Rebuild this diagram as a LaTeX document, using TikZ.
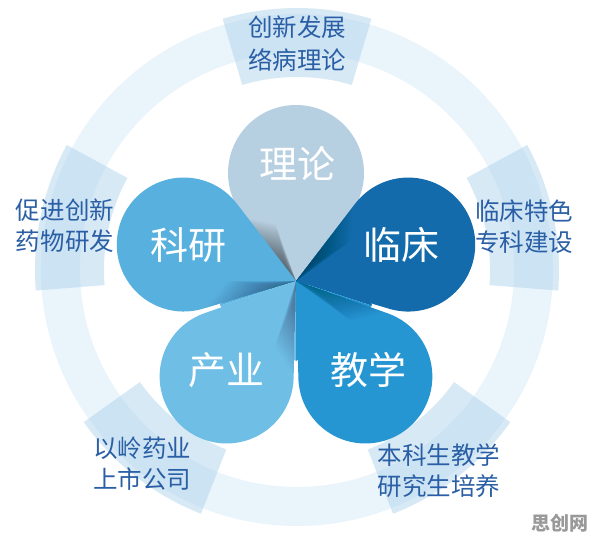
\documentclass[tikz,border=0pt]{standalone}
\usepackage{fontspec}
\newfontfamily\cjk{Noto Sans CJK SC}
\usetikzlibrary{calc}
\definecolor{ringc}{HTML}{EAF4FB}
\definecolor{segc}{HTML}{A9D0EC}
\definecolor{txtc}{HTML}{2A5FA5}
\definecolor{cLilun}{HTML}{B7D0E1}
\definecolor{cLinchuang}{HTML}{136BAB}
\definecolor{cKeyan}{HTML}{58B0DE}
\definecolor{cChanye}{HTML}{6EBEE6}
\definecolor{cJiaoxue}{HTML}{2696D2}
\newcommand{\petalpath}[3]{(O) -- ($(O)+(#1:#2)+(#1-90-\pal:#3)$) arc[start angle=#1-90-\pal, delta angle=180+2*\pal, radius=#3] -- cycle}
% #1 angle, #2 distance, #3 radius, #4 colour, #5 shadow strength per step
\newcommand{\drawpetal}[5]{%
  \pgfmathsetmacro{\pal}{asin(#3/#2)}%
  \pgfmathsetmacro{\ptl}{sqrt(#2*#2-#3*#3)}%
  \fill[#4] \petalpath{#1}{#2}{#3};
  \begin{scope}
    \clip \petalpath{#1}{#2}{#3};
    \foreach \i in {1,...,36}{
      \fill[black, opacity=#5, shift={(O)}, rotate=#1+\pal] (0,0) -- ({\ptl*(0.25+0.02*\i)}, 0) -- ({0.7*\ptl*(0.25+0.02*\i)}, {-0.55*\i}) -- cycle;
    }
  \end{scope}
}
\begin{document}
\begin{tikzpicture}[x=1pt,y=1pt,
  outer/.style={font=\cjk\fontsize{24.5}{31}\selectfont, text=txtc, align=center, inner sep=0pt},
  petaltext/.style={font=\cjk\fontsize{38}{40}\selectfont, text=white, inner sep=0pt}]
\useasboundingbox (0,0) rectangle (596,541);
\fill[white] (0,0) rectangle (596,541);
\coordinate (rc) at (297,271);
\coordinate (O) at (296,260);
% ring
\fill[ringc, even odd rule] (rc) circle[radius=256] (rc) circle[radius=217];
% highlighted segments
\foreach \a in {90,12,168,-52,-128}{
  \fill[segc, opacity=0.45] ($(rc)+(\a-16.5:193)$) arc[start angle=\a-16.5, end angle=\a+16.5, radius=193]
     -- ($(rc)+(\a+16.5:262)$) arc[start angle=\a+16.5, end angle=\a-16.5, radius=262] -- cycle;
}
% underlay wedges to close gaps between petals
\foreach \t/\c in {90/cLilun,18/cLinchuang,162/cKeyan,-126/cChanye,-54/cJiaoxue}{
  \fill[\c] (O) -- ($(O)+(\t-36:80)$) -- ($(O)+(\t+36:80)$) -- cycle;
}
% petals
\drawpetal{90}{108}{68}{cLilun}{0.016}
\drawpetal{18}{118}{67}{cLinchuang}{0.007}
\drawpetal{-54}{118}{67}{cJiaoxue}{0.006}
\drawpetal{-126}{118}{67}{cChanye}{0.009}
\drawpetal{162}{118}{67}{cKeyan}{0.009}
% petal labels
\node[petaltext] (lilun) at (297,377) {理论};
\node[petaltext] (linchuang) at (401,296) {临床};
\node[petaltext] (keyan) at (188,296) {科研};
\node[petaltext] (chanye) at (226,171) {产业};
\node[petaltext] (jiaoxue) at (368,171) {教学};
% outer labels
\node[outer, font=\cjk\fontsize{24.5}{33}\selectfont] (ttop) at (297,497.5) {创新发展\\络病理论};
\node[outer] (tright) at (524,314.5) {临床特色\\专科建设};
\node[outer] (tleft) at (65,315) {促进创新\\药物研发};
\node[outer] (tbl) at (142,77) {以岭药业\\上市公司};
\node[outer] (tbr) at (439,70) {本科生教学\\研究生培养};
% watermark
\node[font=\cjk\bfseries\fontsize{19}{20}\selectfont, text=black!40, inner sep=0pt] (wm) at (560,18) {思创网};
\end{tikzpicture}
\end{document}
